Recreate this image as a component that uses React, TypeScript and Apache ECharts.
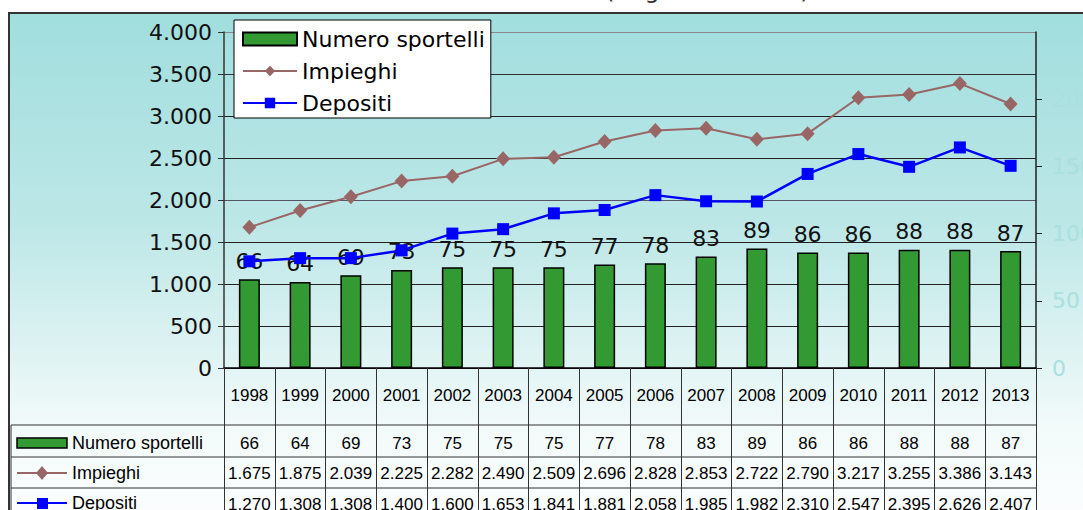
import React, { useEffect, useRef } from "react";
import * as echarts from "echarts";

const years = ["1998", "1999", "2000", "2001", "2002", "2003", "2004", "2005", "2006", "2007", "2008", "2009", "2010", "2011", "2012", "2013"];
const sportelli = [66, 64, 69, 73, 75, 75, 75, 77, 78, 83, 89, 86, 86, 88, 88, 87];
const impieghi = [1675, 1875, 2039, 2225, 2282, 2490, 2509, 2696, 2828, 2853, 2722, 2790, 3217, 3255, 3386, 3143];
const depositi = [1270, 1308, 1308, 1400, 1600, 1653, 1841, 1881, 2058, 1985, 1982, 2310, 2547, 2395, 2626, 2407];
const seriesNames = ["Numero sportelli", "Impieghi", "Depositi"];
const titleText = "(migliaia di euro)";

const fmt = (n: number) => String(n).replace(/\B(?=(\d{3})+(?!\d))/g, ".");

const VERD = "DejaVu Sans";
const ARIAL = "Liberation Sans";
const GREEN = "#339933";
const ROSE = "#996666";
const BLUE = "#0000FF";

export default function App() {
  const ref = useRef<HTMLDivElement>(null);
  useEffect(() => {
    const chart = echarts.init(ref.current!, null, { renderer: "svg" });
    const rows = [sportelli, impieghi, depositi];
    const rowMargins = [75, 105, 136];
    const rowY = [443, 473, 503];

    const tableAxes = rows.map((row, k) => ({
      type: "category",
      gridIndex: 0,
      position: "bottom",
      data: years,
      axisLine: { show: false },
      axisTick: { show: false },
      splitLine: { show: false },
      axisLabel: {
        interval: 0,
        margin: rowMargins[k],
        verticalAlign: "middle",
        fontFamily: ARIAL,
        fontSize: 17,
        color: "#000",
        formatter: (_v: string, i: number) => fmt(row[i]),
      },
    }));

    const graphics: any[] = [
      {
        type: "rect",
        z: -100,
        silent: true,
        shape: { x: 9, y: 13, width: 1100, height: 530 },
        style: {
          fill: new echarts.graphic.LinearGradient(0, 0, 0, 1, [
            { offset: 0, color: "#A1DEDE" },
            { offset: 0.4, color: "#BDE7E7" },
            { offset: 0.78, color: "#F2FAFA" },
            { offset: 1, color: "#FFFFFF" },
          ]),
          stroke: "#333",
          lineWidth: 2,
        },
      },
      {
        type: "text",
        x: 605,
        y: 2,
        style: { text: titleText, fontFamily: VERD, fontSize: 24, fill: "#333", textVerticalAlign: "bottom" },
      },
      { type: "line", shape: { x1: 11, y1: 425, x2: 1036, y2: 425 }, style: { stroke: "#333", lineWidth: 1 } },
      { type: "line", shape: { x1: 11, y1: 457, x2: 1036, y2: 457 }, style: { stroke: "#333", lineWidth: 1 } },
      { type: "line", shape: { x1: 11, y1: 488, x2: 1036, y2: 488 }, style: { stroke: "#333", lineWidth: 1 } },
      { type: "line", shape: { x1: 11, y1: 425, x2: 11, y2: 520 }, style: { stroke: "#333", lineWidth: 1 } },
      // row keys
      { type: "rect", shape: { x: 17, y: 438, width: 50, height: 10 }, style: { fill: GREEN, stroke: "#000", lineWidth: 1.5 } },
      { type: "line", shape: { x1: 17, y1: rowY[1], x2: 67, y2: rowY[1] }, style: { stroke: ROSE, lineWidth: 2 } },
      { type: "polygon", shape: { points: [[42, rowY[1] - 7], [48, rowY[1]], [42, rowY[1] + 7], [36, rowY[1]]] }, style: { fill: ROSE } },
      { type: "line", shape: { x1: 17, y1: rowY[2], x2: 67, y2: rowY[2] }, style: { stroke: BLUE, lineWidth: 2 } },
      { type: "rect", shape: { x: 37, y: rowY[2] - 5, width: 11, height: 11 }, style: { fill: BLUE } },
    ];
    seriesNames.forEach((name, k) => {
      graphics.push({
        type: "text",
        x: 72,
        y: rowY[k],
        style: { text: name, fontFamily: ARIAL, fontSize: 18, fill: "#000", textVerticalAlign: "middle" },
      });
    });

    chart.setOption({
      animation: false,
      grid: { left: 224, right: 47, top: 32, bottom: 142, containLabel: false, outerBoundsMode: "none" },
      legend: {
        left: 234,
        top: 20,
        orient: "vertical",
        backgroundColor: "#fff",
        borderColor: "#000",
        borderWidth: 1,
        borderRadius: 0,
        padding: [8, 6, 4, 8],
        itemGap: 10,
        itemWidth: 54,
        itemHeight: 13,
        textStyle: { fontFamily: VERD, fontSize: 22, color: "#000" },
        data: [{ name: seriesNames[0], icon: "rect" }, seriesNames[1], seriesNames[2]],
      },
      xAxis: [
        {
          type: "category",
          data: years,
          boundaryGap: true,
          axisLine: { show: true, lineStyle: { color: "#000", width: 1.5 } },
          axisTick: { show: true, interval: 0, length: 150, lineStyle: { color: "#333", width: 1 } },
          axisLabel: {
            interval: 0,
            margin: 27,
            verticalAlign: "middle",
            fontFamily: ARIAL,
            fontSize: 17,
            color: "#000",
          },
          splitLine: { show: false },
        },
        ...tableAxes,
      ],
      yAxis: [
        {
          type: "value",
          min: 0,
          max: 4000,
          interval: 500,
          position: "left",
          axisLine: { show: true, lineStyle: { color: "#333", width: 1.5 } },
          axisTick: { show: true, length: 6, lineStyle: { color: "#333" } },
          axisLabel: { fontFamily: VERD, fontSize: 22, color: "#111", margin: 12, formatter: (v: number) => fmt(v) },
          splitLine: {
            show: true,
            lineStyle: { color: ["#222", "#222", "#222", "#222", "#556", "#222", "#222", "#333", "#888"], width: 1 },
          },
        },
        {
          type: "value",
          min: 0,
          max: 250,
          interval: 50,
          position: "right",
          axisLine: { show: true, lineStyle: { color: "#222", width: 1.5 } },
          axisTick: { show: true, length: 6, lineStyle: { color: "#222" } },
          axisLabel: { fontFamily: VERD, fontSize: 22, color: "#A9E0E0", margin: 16, showMaxLabel: false },
          splitLine: { show: false },
        },
      ],
      series: [
        {
          name: seriesNames[0],
          type: "bar",
          xAxisIndex: 0,
          yAxisIndex: 1,
          data: sportelli,
          barWidth: 21,
          itemStyle: { color: GREEN, borderColor: "#000", borderWidth: 1.5 },
          label: { show: true, position: "top", distance: 7, fontFamily: VERD, fontSize: 22, color: "#111" },
          z: 2,
        },
        {
          name: seriesNames[1],
          type: "line",
          xAxisIndex: 0,
          yAxisIndex: 0,
          data: impieghi,
          symbol: "diamond",
          symbolSize: [14, 15],
          lineStyle: { color: ROSE, width: 2 },
          itemStyle: { color: ROSE },
          z: 3,
        },
        {
          name: seriesNames[2],
          type: "line",
          xAxisIndex: 0,
          yAxisIndex: 0,
          data: depositi,
          symbol: "rect",
          symbolSize: 12,
          lineStyle: { color: BLUE, width: 2.5 },
          itemStyle: { color: BLUE },
          z: 3,
        },
      ],
      graphic: graphics,
    });
    return () => chart.dispose();
  }, []);
  return <div ref={ref} style={{ position: "absolute", left: 0, top: 0, width: 1083, height: 510 }} />;
}
